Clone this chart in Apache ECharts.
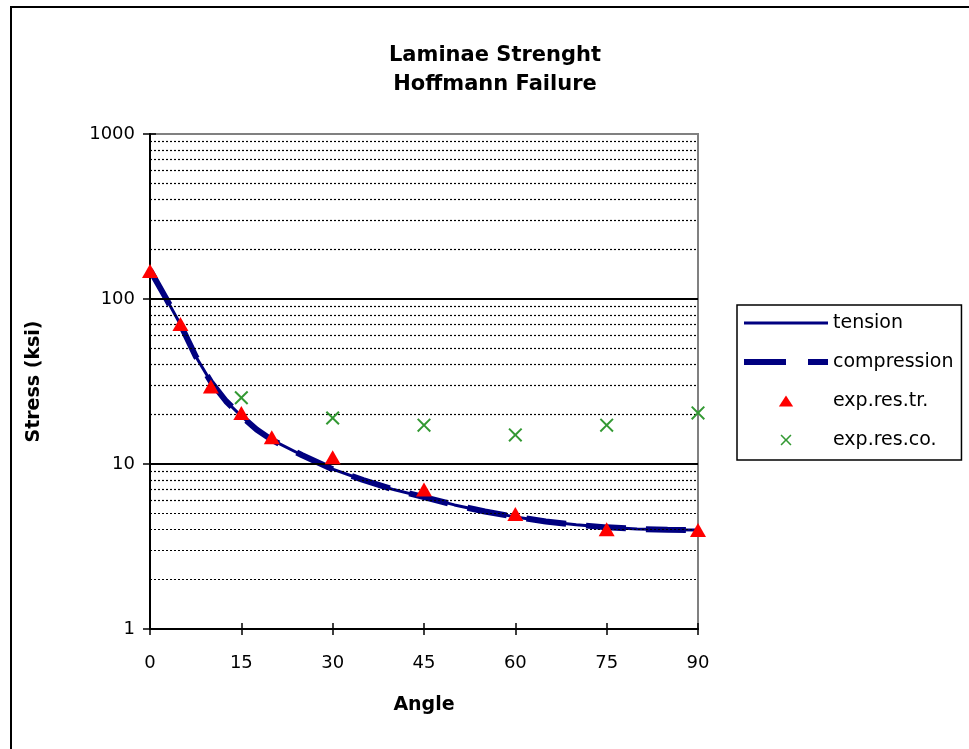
<!DOCTYPE html>
<html>
<head>
<meta charset="utf-8">
<script src="https://cdn.jsdelivr.net/npm/echarts@6/dist/echarts.min.js"></script>
<style>html,body{margin:0;padding:0;background:#fff;}#chart{width:969px;height:749px;}</style>
</head>
<body>
<div id="chart"></div>
<script>
const curveAngles = [0, 2.5, 5, 7.5, 10, 12.5, 15, 17.5, 20, 25, 30, 35, 40, 45, 50, 55, 60, 65, 70, 75, 80, 85, 90];
const tensionValues = [150, 103, 70, 45, 31.5, 24, 19.5, 16.2, 14, 11.3, 9.3, 8.0, 7.0, 6.3, 5.65, 5.15, 4.78, 4.48, 4.28, 4.13, 4.04, 4.0, 3.98];
const compressionValues = [150, 103, 70, 45, 31.5, 24, 19.5, 16.2, 14, 11.3, 9.3, 8.0, 7.0, 6.3, 5.65, 5.15, 4.78, 4.48, 4.28, 4.13, 4.04, 4.0, 3.98];
const expTrAngles = [0, 5, 10, 15, 20, 30, 45, 60, 75, 90];
const expTrValues = [148, 70.5, 29.5, 20.4, 14.5, 11.0, 7.0, 4.98, 4.02, 3.98];
const expCoAngles = [15, 30, 45, 60, 75, 90];
const expCoValues = [25.2, 19.0, 17.2, 15.0, 17.2, 20.4];
const majorGrid = [10, 100];
const minorGrid = [2, 3, 4, 5, 6, 7, 8, 9, 20, 30, 40, 50, 60, 70, 80, 90, 200, 300, 400, 500, 600, 700, 800, 900];
const seriesNames = ['tension', 'compression', 'exp.res.tr.', 'exp.res.co.'];

const FONT = 'DejaVu Sans';
const pair = (xs, ys) => xs.map((x, i) => [x, ys[i]]);
const crossPath = 'path://M0,1 L1,0 L5,4 L9,0 L10,1 L6,5 L10,9 L9,10 L5,6 L1,10 L0,9 L4,5 Z';
const triPath = 'path://M0,10 L6.5,0 L13,10 Z';
const hiddenSym = {color: 'rgba(0,0,0,0)', borderColor: 'rgba(0,0,0,0)', borderWidth: 0, opacity: 0};

const chart = echarts.init(document.getElementById('chart'), null, {renderer: 'canvas'});
const baseX = {type: 'value', min: 0, max: 90, interval: 15, gridIndex: 0, position: 'bottom'};
const baseY = {type: 'log', logBase: 10, min: 1, max: 1000, interval: 1, gridIndex: 0, position: 'left'};

chart.setOption({
  animation: false,
  backgroundColor: '#fff',
  graphic: [
    {type: 'rect', shape: {x: 11, y: 7, width: 1200, height: 1200}, style: {fill: 'none', stroke: '#000', lineWidth: 2}, silent: true, z: -1},
    {type: 'text', x: 495, y: 56, style: {text: 'Laminae Strenght', font: 'bold 21px "' + FONT + '"', fill: '#000', textAlign: 'center', textVerticalAlign: 'middle'}},
    {type: 'text', x: 495, y: 85, style: {text: 'Hoffmann Failure', font: 'bold 21px "' + FONT + '"', fill: '#000', textAlign: 'center', textVerticalAlign: 'middle'}}
  ],
  grid: {left: 150, right: 271, top: 134, bottom: 120, show: true, borderColor: '#808080', borderWidth: 2, backgroundColor: 'transparent'},
  legend: {
    orient: 'vertical', left: 737, top: 305,
    padding: [8, 8, 10, 4],
    borderColor: '#000', borderWidth: 1.5, backgroundColor: '#fff',
    itemWidth: 84, itemHeight: 11, itemGap: 19,
    symbolKeepAspect: true,
    textStyle: {fontFamily: FONT, fontSize: 19, color: '#000', lineHeight: 20},
    data: [
      {name: seriesNames[0], itemStyle: hiddenSym, lineStyle: {width: 3, color: '#000080'}},
      {name: seriesNames[1], itemStyle: hiddenSym, lineStyle: {width: 6, color: '#000080', type: [42, 22]}},
      {name: seriesNames[2], icon: triPath},
      {name: seriesNames[3], icon: crossPath}
    ]
  },
  xAxis: [
    Object.assign({}, baseX, {
      name: 'Angle', nameLocation: 'middle', nameGap: 67,
      nameTextStyle: {fontFamily: FONT, fontSize: 19, fontWeight: 'bold', color: '#000'},
      axisLine: {show: true, lineStyle: {color: '#000', width: 2}},
      axisTick: {show: true, inside: false, length: 6, lineStyle: {color: '#000', width: 1.5}},
      axisLabel: {fontFamily: FONT, fontSize: 18, color: '#000', margin: 25},
      splitLine: {show: false}
    }),
    Object.assign({}, baseX, {
      axisLine: {show: false}, axisLabel: {show: false}, splitLine: {show: false},
      axisTick: {show: true, inside: true, length: 6, lineStyle: {color: '#000', width: 1.5}}
    })
  ],
  yAxis: [
    Object.assign({}, baseY, {
      name: 'Stress (ksi)', nameLocation: 'middle', nameGap: 106, nameRotate: 90,
      nameTextStyle: {fontFamily: FONT, fontSize: 19, fontWeight: 'bold', color: '#000'},
      axisLine: {show: true, lineStyle: {color: '#000', width: 2}},
      axisTick: {show: true, inside: false, length: 7, lineStyle: {color: '#000', width: 1.5}},
      axisLabel: {fontFamily: FONT, fontSize: 18, color: '#000', margin: 15, formatter: v => String(Math.round(v))},
      splitLine: {show: false}, minorTick: {show: false}, minorSplitLine: {show: false}
    }),
    Object.assign({}, baseY, {
      axisLine: {show: false}, axisLabel: {show: false}, splitLine: {show: false},
      axisTick: {show: true, inside: true, length: 6, lineStyle: {color: '#000', width: 1.5}}
    })
  ],
  series: [
    {
      name: seriesNames[0], type: 'line', xAxisIndex: 0, yAxisIndex: 0,
      data: pair(curveAngles, tensionValues),
      symbol: 'none', showSymbol: false, smooth: false, z: 3,
      lineStyle: {color: '#000080', width: 3},
      itemStyle: {color: '#000080'},
      markLine: {
        silent: true, symbol: ['none', 'none'], label: {show: false}, animation: false,
        data: minorGrid.map(v => ({yAxis: v, lineStyle: {color: '#000', width: 1.2, type: [2, 2]}}))
          .concat(majorGrid.map(v => ({yAxis: v, lineStyle: {color: '#000', width: 1.8, type: 'solid'}})))
      }
    },
    {
      name: seriesNames[1], type: 'line', xAxisIndex: 0, yAxisIndex: 0,
      data: pair(curveAngles, compressionValues),
      symbol: 'none', showSymbol: false, smooth: false, z: 4,
      lineStyle: {color: '#000080', width: 6, type: [40, 20]},
      itemStyle: {color: '#000080'}
    },
    {
      name: seriesNames[2], type: 'scatter', xAxisIndex: 0, yAxisIndex: 0,
      data: pair(expTrAngles, expTrValues),
      symbol: 'triangle', symbolSize: [16, 14], clip: false, z: 5,
      itemStyle: {color: '#ff0000', opacity: 1}
    },
    {
      name: seriesNames[3], type: 'scatter', xAxisIndex: 0, yAxisIndex: 0,
      data: pair(expCoAngles, expCoValues),
      symbol: crossPath, symbolSize: 14, clip: false, z: 5,
      itemStyle: {color: '#339933', opacity: 1}
    }
  ]
});
</script>
</body>
</html>
